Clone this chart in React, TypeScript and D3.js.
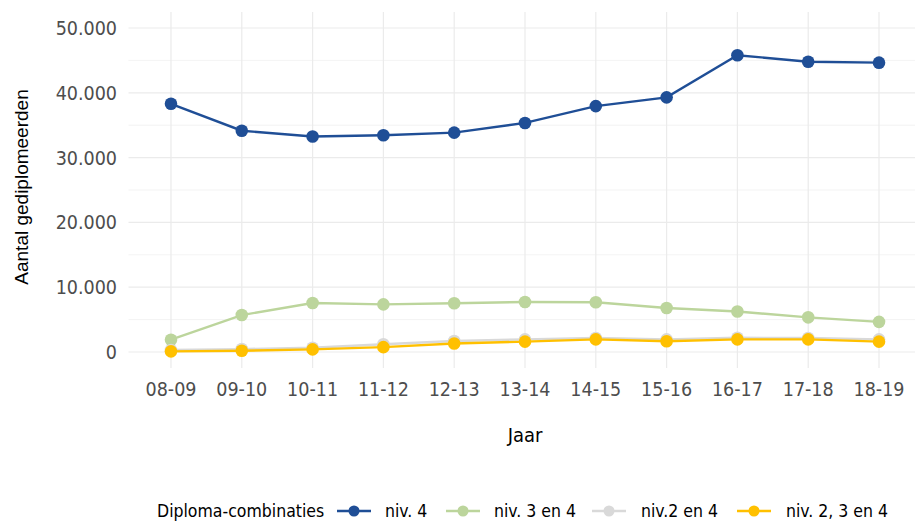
import React from "react";
import * as d3 from "d3";

const years = ["08-09", "09-10", "10-11", "11-12", "12-13", "13-14", "14-15", "15-16", "16-17", "17-18", "18-19"];
const niv4 = [38300, 34150, 33250, 33450, 33850, 35350, 37950, 39300, 45800, 44800, 44650];
const niv3en4 = [1900, 5700, 7550, 7350, 7520, 7720, 7680, 6800, 6250, 5350, 4650];
const niv2en4 = [300, 450, 650, 1200, 1700, 1950, 2150, 1950, 2200, 2150, 1950];
const niv23en4 = [100, 200, 400, 750, 1300, 1600, 1950, 1650, 1950, 1950, 1600];
const yTicks = [0, 10000, 20000, 30000, 40000, 50000];
const yMinor = [5000, 15000, 25000, 35000, 45000];
const seriesNames = ["niv. 4", "niv. 3 en 4", "niv.2 en 4", "niv. 2, 3 en 4"];
const seriesColors = ["#1f4e96", "#bcd59c", "#d9d9d9", "#ffc000"];
const seriesValues = [niv4, niv3en4, niv2en4, niv23en4];

const FONT = "'DejaVu Sans Condensed', 'DejaVu Sans', sans-serif";

export default function App() {
  const W = 915, H = 522;
  const left = 128.5, right = 921.5;
  const top = 12, bottom = 368;
  const x = d3.scalePoint<string>().domain(years).range([left, right]).padding(0.6);
  const y = d3.scaleLinear().domain([-2470, 52470]).range([bottom, top]);
  const line = d3.line<number>().x((_, i) => x(years[i])!).y((d) => y(d));
  const fmt = (v: number) => d3.format(",")(v).replace(/,/g, ".");

  const legendItems = [
    { key: 337, text: 385 },
    { key: 446, text: 494 },
    { key: 592, text: 641 },
    { key: 737, text: 786 },
  ];

  return (
    <svg width={W} height={H} style={{ position: "absolute", left: 0, top: 0, background: "#fff" }} fontFamily={FONT}>
      <rect width={W} height={H} fill="#fff" />
      {yMinor.map((v) => (
        <line key={"m" + v} x1={left} x2={W} y1={y(v)} y2={y(v)} stroke="#ebebeb" strokeWidth={0.6} />
      ))}
      {yTicks.map((v) => (
        <line key={"g" + v} x1={left} x2={W} y1={y(v)} y2={y(v)} stroke="#ebebeb" strokeWidth={1.2} />
      ))}
      {years.map((yr) => (
        <line key={"v" + yr} x1={x(yr)} x2={x(yr)} y1={top} y2={bottom} stroke="#ebebeb" strokeWidth={1.2} />
      ))}
      {yTicks.map((v) => (
        <text key={"t" + v} x={117} y={y(v)} dy="0.36em" textAnchor="end" fontSize={19.5} fill="#4d4d4d">
          {fmt(v)}
        </text>
      ))}
      {years.map((yr) => (
        <text key={"xt" + yr} x={x(yr)} y={396} textAnchor="middle" fontSize={19.5} fill="#4d4d4d">
          {yr}
        </text>
      ))}
      <text x={525} y={442} textAnchor="middle" fontSize={20} fill="#000">Jaar</text>
      <text transform={`translate(28,${187}) rotate(-90)`} textAnchor="middle" fontSize={19}
        fontFamily="'Liberation Sans', Arial, sans-serif" fill="#000">
        Aantal gediplomeerden
      </text>
      {seriesValues.map((vals, si) => (
        <g key={"s" + si}>
          <path d={line(vals)!} fill="none" stroke={seriesColors[si]} strokeWidth={2.4} />
          {vals.map((v, i) => (
            <circle key={i} cx={x(years[i])} cy={y(v)} r={6.3} fill={seriesColors[si]} />
          ))}
        </g>
      ))}
      <text x={157} y={517} fontSize={17.5} fill="#000">Diploma-combinaties</text>
      {legendItems.map((it, i) => (
        <g key={"l" + i}>
          <line x1={it.key} x2={it.key + 34} y1={511} y2={511} stroke={seriesColors[i]} strokeWidth={2.4} />
          <circle cx={it.key + 17} cy={511} r={5.5} fill={seriesColors[i]} />
          <text x={it.text} y={517} fontSize={17.5} fill="#000">{seriesNames[i]}</text>
        </g>
      ))}
    </svg>
  );
}
